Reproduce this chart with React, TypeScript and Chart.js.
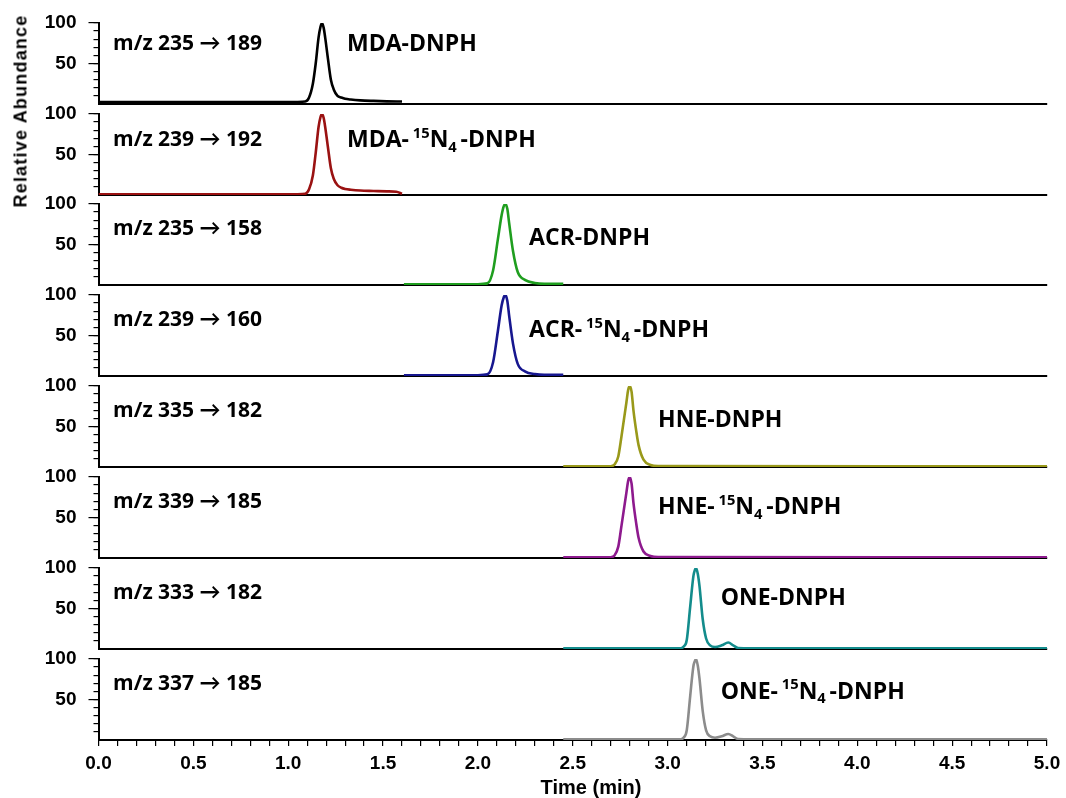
import React, { useEffect, useRef } from 'react';
import { Chart, registerables } from 'chart.js';

Chart.register(...registerables);

// ---------- data ----------
const xTickLabels = ['0.0', '0.5', '1.0', '1.5', '2.0', '2.5', '3.0', '3.5', '4.0', '4.5', '5.0'];
const yTickLabels = ['50', '100'];

const mdaTimes = [0, 1.05, 1.09, 1.11, 1.13, 1.145, 1.16, 1.17, 1.178, 1.187, 1.195, 1.21, 1.225, 1.24, 1.26, 1.28, 1.3, 1.33, 1.38, 1.45, 1.52, 1.6];
const mdaAbund = [2.5, 2.5, 3, 8, 25, 50, 82, 95, 100, 94, 82, 55, 30, 18, 10, 8, 6.5, 5.5, 4.5, 3.8, 3.3, 3];

const mdaIsoTimes = [0, 1.05, 1.09, 1.11, 1.13, 1.145, 1.16, 1.17, 1.178, 1.187, 1.195, 1.21, 1.225, 1.24, 1.26, 1.28, 1.3, 1.33, 1.38, 1.45, 1.52, 1.57, 1.6];
const mdaIsoAbund = [1, 1, 1.5, 7, 24, 52, 84, 96, 100, 95, 84, 58, 33, 20, 12, 9, 7.5, 6.5, 5.5, 5, 4.5, 4, 1.5];

const acrTimes = [1.61, 2.0, 2.05, 2.08, 2.105, 2.125, 2.136, 2.145, 2.155, 2.165, 2.185, 2.21, 2.25, 2.3, 2.35, 2.45];
const acrAbund = [1, 1, 2, 18, 56, 86, 97, 100, 94, 76, 42, 16, 6, 2.5, 1.5, 1.5];
const acrIsoAbund = [1, 1, 2, 17, 55, 87, 97, 100, 93, 74, 40, 15, 5.5, 2.5, 1.5, 1.5];

const hneTimes = [2.45, 2.7, 2.72, 2.74, 2.757, 2.783, 2.792, 2.8, 2.81, 2.82, 2.835, 2.847, 2.873, 2.91, 2.95, 5.0];
const hneAbund = [1, 1, 3, 13, 38, 80, 95, 100, 93, 70, 44, 27, 9, 2.5, 1.2, 1];
const hneIsoAbund = [1, 1, 3, 14, 40, 81, 95, 100, 92, 68, 42, 25, 8, 2.5, 1.2, 1];

const oneTimes = [2.45, 3.07, 3.085, 3.101, 3.119, 3.136, 3.143, 3.15, 3.159, 3.168, 3.185, 3.203, 3.224, 3.25, 3.285, 3.32, 3.346, 3.372, 3.4, 5.0];
const oneAbund = [1, 1, 3, 11, 52, 90, 97, 100, 93, 78, 37, 13, 4.5, 2.5, 4.5, 8, 4.5, 1.2, 1, 1];
const oneIsoAbund = [1, 1, 3, 12, 54, 91, 97, 100, 92, 76, 36, 12, 4.5, 2.8, 4.5, 7.5, 4.5, 1.2, 1, 1];

const transitions = [
  'm/z 235 → 189',
  'm/z 239 → 192',
  'm/z 235 → 158',
  'm/z 239 → 160',
  'm/z 335 → 182',
  'm/z 339 → 185',
  'm/z 333 → 182',
  'm/z 337 → 185',
];

type Part = { t: string; k?: 'sup' | 'sub' };
const iso = (a: string): Part[] => [{ t: a + '-\u2009' }, { t: '15', k: 'sup' }, { t: 'N' }, { t: '4', k: 'sub' }, { t: '\u2009-DNPH' }];
const compoundNames: Part[][] = [
  [{ t: 'MDA-DNPH' }],
  iso('MDA'),
  [{ t: 'ACR-DNPH' }],
  iso('ACR'),
  [{ t: 'HNE-DNPH' }],
  iso('HNE'),
  [{ t: 'ONE-DNPH' }],
  iso('ONE'),
];

const seriesTimes = [mdaTimes, mdaIsoTimes, acrTimes, acrTimes, hneTimes, hneTimes, oneTimes, oneTimes];
const seriesAbund = [mdaAbund, mdaIsoAbund, acrAbund, acrIsoAbund, hneAbund, hneIsoAbund, oneAbund, oneIsoAbund];

// ---------- styles / layout ----------
const colors = ['#000000', '#9a1212', '#1f9e1f', '#17178f', '#99991a', '#8e1a8e', '#138c8c', '#8c8c8c'];
const labelPos = [
  { mzY: 74, nameX: 1.31, nameY: 74 },
  { mzY: 68, nameX: 1.31, nameY: 67 },
  { mzY: 69, nameX: 2.27, nameY: 57 },
  { mzY: 69, nameX: 2.27, nameY: 56 },
  { mzY: 69, nameX: 2.95, nameY: 58 },
  { mzY: 69, nameX: 2.95, nameY: 62 },
  { mzY: 69, nameX: 3.28, nameY: 63 },
  { mzY: 69, nameX: 3.28, nameY: 59 },
];
const MZ_X = 0.077;
const panelTops = [23, 114, 204, 295, 386, 477, 568, 659];
const PLOT_H = 81;
const PAD_TOP = 12;
const PAD_BOTTOM = 12;
const AXIS_LEFT = 98.5;
const RIGHT_PAD = 19;
const X_AXIS_H = 40;
const W = 1066;
const H = 798;
const tickFont = { family: '"Liberation Sans", Arial, sans-serif', weight: 'bold' as const, size: 19 };
const labelFamily = '"Open Sans", Lato, sans-serif';
const MZ_SIZE = 21;
const NAME_SIZE = 23;

function drawParts(ctx: CanvasRenderingContext2D, parts: Part[], x: number, y: number, size: number) {
  let cx = x;
  ctx.textBaseline = 'middle';
  ctx.textAlign = 'left';
  for (const p of parts) {
    const s = p.k ? size * 0.64 : size;
    ctx.font = `bold ${s}px ${labelFamily}`;
    const dy = p.k === 'sup' ? -size * 0.3 : p.k === 'sub' ? size * 0.3 : 0;
    ctx.fillText(p.t, cx, y + dy);
    cx += ctx.measureText(p.t).width;
  }
}

function Panel({ idx }: { idx: number }) {
  const ref = useRef<HTMLCanvasElement>(null);
  const last = idx === transitions.length - 1;
  const canvasTop = panelTops[idx] - PAD_TOP;
  const canvasH = last ? PAD_TOP + PLOT_H + X_AXIS_H : PAD_TOP + PLOT_H + PAD_BOTTOM;

  useEffect(() => {
    const times = seriesTimes[idx];
    const vals = seriesAbund[idx];
    const pos = labelPos[idx];
    const hideZero = (c: any) => (c.tick && c.tick.value === 0 ? 'rgba(0,0,0,0)' : '#000');
    const noPad = (s: any) => {
      s.paddingTop = 0;
      s.paddingBottom = 0;
      s.paddingLeft = 0;
      s.paddingRight = 0;
    };
    const labelPlugin = {
      id: 'panelLabels' + idx,
      afterDatasetsDraw(chart: any) {
        const ctx = chart.ctx as CanvasRenderingContext2D;
        const xs = chart.scales.x;
        const ys = chart.scales.y;
        ctx.save();
        ctx.fillStyle = '#000';
        drawParts(ctx, [{ t: transitions[idx] }], xs.getPixelForValue(MZ_X), ys.getPixelForValue(pos.mzY), MZ_SIZE);
        drawParts(ctx, compoundNames[idx], xs.getPixelForValue(pos.nameX), ys.getPixelForValue(pos.nameY), NAME_SIZE);
        ctx.restore();
      },
    };
    const chart = new Chart(ref.current!, {
      type: 'line',
      data: {
        datasets: [
          {
            data: times.map((t, i) => ({ x: t, y: vals[i] })),
            borderColor: colors[idx],
            borderWidth: 2.6,
            pointRadius: 0,
            fill: false,
            cubicInterpolationMode: 'monotone',
            xAxisID: 'x',
            yAxisID: 'y',
          },
        ],
      },
      options: {
        animation: false,
        responsive: false,
        events: [],
        layout: { padding: { top: PAD_TOP, right: RIGHT_PAD, bottom: last ? 0 : PAD_BOTTOM, left: 0 } },
        plugins: { legend: { display: false }, tooltip: { enabled: false } },
        scales: {
          x: {
            type: 'linear',
            position: 'bottom',
            min: 0,
            max: 5,
            border: { display: true, color: '#000', width: 2 },
            grid: { display: true, drawOnChartArea: false, drawTicks: last, tickLength: 6, color: '#000', lineWidth: 1.2 },
            ticks: {
              display: last,
              stepSize: 0.1,
              autoSkip: false,
              maxRotation: 0,
              minRotation: 0,
              padding: 6,
              color: '#000',
              font: tickFont,
              callback: (v: any) => {
                const r = Math.round(Number(v) * 10);
                return r % 5 === 0 ? xTickLabels[r / 5] : '';
              },
            },
            afterFit: (s: any) => {
              noPad(s);
              s.height = last ? X_AXIS_H : 0;
            },
          },
          y: {
            type: 'linear',
            position: 'left',
            weight: 1,
            min: 0,
            max: 100,
            border: { display: false },
            grid: { drawOnChartArea: false, drawTicks: true, tickLength: 10, color: hideZero, lineWidth: 1.2 },
            ticks: {
              stepSize: 50,
              padding: 12,
              color: '#000',
              font: tickFont,
              callback: (v: any) => (Number(v) === 50 ? yTickLabels[0] : Number(v) === 100 ? yTickLabels[1] : ''),
            },
            afterFit: (s: any) => {
              noPad(s);
              s.width = AXIS_LEFT;
            },
          },
          ym: {
            type: 'linear',
            position: 'left',
            weight: 0,
            min: 0,
            max: 100,
            border: { display: true, color: '#000', width: 2 },
            grid: { drawOnChartArea: false, drawTicks: true, tickLength: 5, color: hideZero, lineWidth: 1.2 },
            ticks: { display: false, stepSize: 10 },
            afterFit: (s: any) => {
              noPad(s);
              s.width = 0;
            },
          },
        },
      } as any,
      plugins: [labelPlugin],
    });
    return () => chart.destroy();
  }, [idx, last]);

  return (
    <canvas
      ref={ref}
      width={W}
      height={canvasH}
      style={{ position: 'absolute', left: 0, top: canvasTop, width: W, height: canvasH }}
    />
  );
}

export default function App() {
  return (
    <div style={{ position: 'absolute', left: 0, top: 0, width: W, height: H, background: '#fff', overflow: 'hidden' }}>
      {transitions.map((_, i) => (
        <Panel key={i} idx={i} />
      ))}
      <div
        style={{
          position: 'absolute',
          left: 21,
          top: 111,
          transform: 'translate(-50%, -50%) rotate(-90deg)',
          whiteSpace: 'nowrap',
          font: 'bold 18px "Liberation Sans", Arial, sans-serif',
          letterSpacing: '1.2px',
          color: '#000',
        }}
      >
        Relative Abundance
      </div>
      <div
        style={{
          position: 'absolute',
          left: 591,
          top: 787,
          transform: 'translate(-50%, -50%)',
          whiteSpace: 'nowrap',
          font: 'bold 20px "Liberation Sans", Arial, sans-serif',
          color: '#000',
        }}
      >
        Time (min)
      </div>
    </div>
  );
}
